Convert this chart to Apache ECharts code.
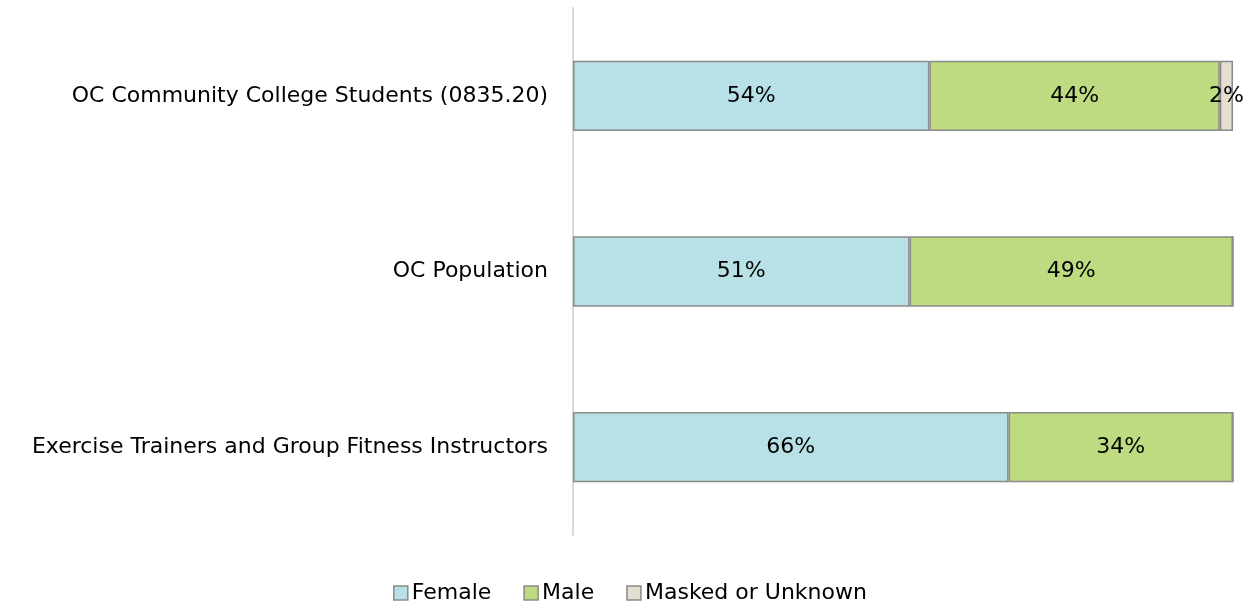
<!DOCTYPE html>
<html><head><meta charset="utf-8">
<script src="https://cdn.jsdelivr.net/npm/echarts@6/dist/echarts.min.js"></script>
<style>html,body{margin:0;padding:0;background:#fff}#c{width:1260px;height:602px}</style>
</head><body><div id="c"></div>
<script>
const categories = ['OC Community College Students (0835.20)', 'OC Population', 'Exercise Trainers and Group Fitness Instructors'];
const female = [0.54, 0.51, 0.66];
const male = [0.44, 0.49, 0.34];
const masked = [0.02, 0, 0];
const seriesNames = ['Female', 'Male', 'Masked or Unknown'];
const colors = ['#B7E1E6', '#BEDB82', '#E4DDD2'];
const font = 'DejaVu Sans';

const chart = echarts.init(document.getElementById('c'));
function mk(name, data, color) {
  return {
    name, type: 'bar', stack: 'a', data, barCategoryGap: '60%',
    itemStyle: { color, borderColor: '#8a8a8a', borderWidth: 1.5 },
    label: {
      show: true, position: 'inside', color: '#000', fontFamily: font, fontSize: 22,
      formatter: p => p.value > 0 ? Math.round(p.value * 100) + '%' : ''
    },
    emphasis: { disabled: true }
  };
}
chart.setOption({
  animation: false,
  textStyle: { fontFamily: font },
  grid: { left: 573, right: 27, top: 8, bottom: 67, containLabel: false },
  xAxis: { type: 'value', min: 0, max: 1, show: false },
  yAxis: {
    type: 'category', data: categories, inverse: true,
    axisLine: { show: true, lineStyle: { color: '#d9d9d9', width: 2 } },
    axisTick: { show: false },
    axisLabel: { color: '#000', fontSize: 22, fontFamily: font, margin: 25 }
  },
  legend: {
    top: 577, left: 'center', itemWidth: 14, itemHeight: 14, itemGap: 32,
    icon: 'rect',
    textStyle: { color: '#000', fontSize: 22, fontFamily: font, padding: [0, 0, 0, -1] },
    itemStyle: { borderColor: '#8a8a8a', borderWidth: 1.5 },
    data: seriesNames
  },
  series: [mk(seriesNames[0], female, colors[0]), mk(seriesNames[1], male, colors[1]), mk(seriesNames[2], masked, colors[2])]
});
</script></body></html>
